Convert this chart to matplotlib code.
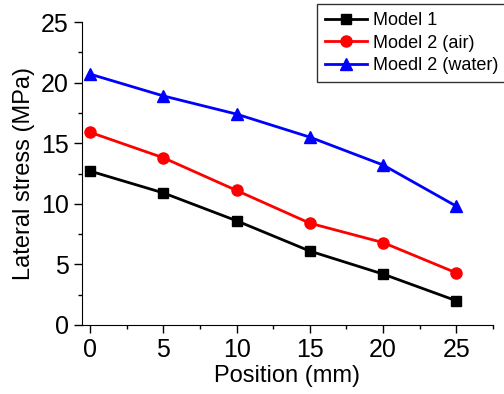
import numpy as np
import matplotlib.pyplot as plt
from matplotlib.ticker import MultipleLocator

plt.rcParams['font.family'] = ['Liberation Sans', 'DejaVu Sans']

# data
position = [0, 5, 10, 15, 20, 25]
model1 = [12.7, 10.9, 8.6, 6.1, 4.2, 2.0]
model2_air = [15.9, 13.8, 11.1, 8.4, 6.8, 4.3]
model2_water = [20.7, 18.9, 17.4, 15.5, 13.2, 9.8]
labels = ["Model 1", "Model 2 (air)", "Moedl 2 (water)"]

fig = plt.figure(figsize=(5.04, 3.94), dpi=100)
ax = fig.add_axes([82/504, 1-325/394, (493-82)/504, (325-22)/394])

ax.plot(position, model1, color='black', marker='s', ms=7, lw=2, label=labels[0])
ax.plot(position, model2_air, color='red', marker='o', ms=8, lw=2, label=labels[1])
ax.plot(position, model2_water, color='blue', marker='^', ms=8, lw=2, label=labels[2])

ax.set_xlim(-0.55, 27.5)
ax.set_ylim(0, 25)
ax.xaxis.set_major_locator(MultipleLocator(5))
ax.xaxis.set_minor_locator(MultipleLocator(2.5))
ax.yaxis.set_major_locator(MultipleLocator(5))
ax.yaxis.set_minor_locator(MultipleLocator(2.5))
ax.spines['top'].set_visible(False)
ax.spines['right'].set_visible(False)
ax.tick_params(which='major', direction='out', length=6, width=1, labelsize=18)
ax.tick_params(which='minor', direction='out', length=3, width=1)

ax.set_xlabel("Position (mm)", fontsize=17, labelpad=2)
ax.set_ylabel("Lateral stress (MPa)", fontsize=17, labelpad=4)

leg = ax.legend(loc='upper left', bbox_to_anchor=(317/504, 1-4/394), bbox_transform=fig.transFigure,
                fontsize=13, frameon=True, fancybox=False, edgecolor='black',
                handlelength=2.3, borderpad=0.45, labelspacing=0.3, handletextpad=0.35,
                borderaxespad=0)
leg.get_frame().set_linewidth(1)

fig.savefig("out.png", dpi=100)
